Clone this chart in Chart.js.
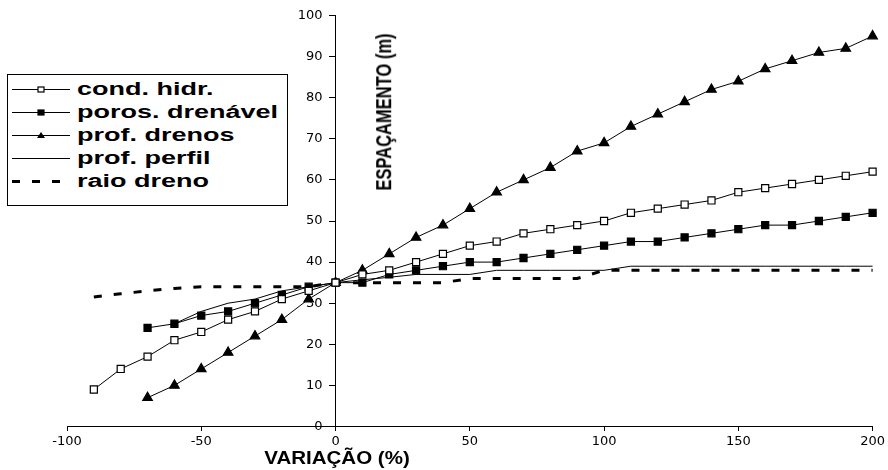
<!DOCTYPE html>
<html>
<head>
<meta charset="utf-8">
<script src="https://cdn.jsdelivr.net/npm/chart.js@4/dist/chart.umd.min.js"></script>
<style>
  html, body { margin: 0; padding: 0; background: #fff; }
  #wrap { position: relative; width: 888px; height: 470px; }
  #legend {
    position: absolute; left: 7px; top: 74px; width: 281px; height: 132px;
    border: 1px solid #000; box-sizing: border-box; background: #fff;
    font-family: "Liberation Sans", Arial, sans-serif; font-weight: bold;
  }
  .row { position: absolute; left: 0; height: 23px; width: 100%; }
  .row svg { position: absolute; left: 4px; top: 0; }
  .row span {
    position: absolute; left: 69px; top: 2px; font-size: 18px; line-height: 19px;
    transform: scaleX(1.5); transform-origin: left center; white-space: nowrap;
  }
  .title {
    position: absolute; font-family: "Liberation Sans", Arial, sans-serif;
    font-weight: bold; white-space: nowrap;
  }
  #ytitle { left: 384px; top: 112px; font-size: 16.5px;
    transform: translate(-50%, -50%) rotate(-90deg) scaleY(1.35); }
  #xtitle { left: 337px; top: 458px; font-size: 19px;
    transform: translate(-50%, -50%) scaleX(1.08); }
</style>
</head>
<body>
<div id="wrap">
  <canvas id="chart" width="888" height="470"></canvas>
  <div id="legend"></div>
  <div id="ytitle" class="title">ESPAÇAMENTO (m)</div>
  <div id="xtitle" class="title">VARIAÇÃO (%)</div>
</div>
<script>
// variação (%) shared by all series
const variacao = [-90, -80, -70, -60, -50, -40, -30, -20, -10, 0,
  10, 20, 30, 40, 50, 60, 70, 80, 90, 100,
  110, 120, 130, 140, 150, 160, 170, 180, 190, 200];

// espaçamento (m)
const condHidr = [9, 14, 17, 21, 23, 26, 28, 31, 33, 35,
  37, 38, 40, 42, 44, 45, 47, 48, 49, 50,
  52, 53, 54, 55, 57, 58, 59, 60, 61, 62];
const porosDrenavel = [null, null, 24, 25, 27, 28, 30, 32, 34, 35,
  35, 37, 38, 39, 40, 40, 41, 42, 43, 44,
  45, 45, 46, 47, 48, 49, 49, 50, 51, 52];
const profDrenos = [null, null, 7, 10, 14, 18, 22, 26, 31, 35,
  38, 42, 46, 49, 53, 57, 60, 63, 67, 69,
  73, 76, 79, 82, 84, 87, 89, 91, 92, 95];
const profPerfil = [null, null, null, 25, 28, 30, 31, 33, 34, 35,
  35.7, 36.3, 37, 37, 37, 38, 38, 38, 38, 38,
  39, 39, 39, 39, 39, 39, 39, 39, 39, 39];
const raioDreno = [31.5, 32.3, 33, 33.6, 34, 34, 34, 34, 34, 35,
  35, 35, 35, 35, 36, 36, 36, 36, 36, 38,
  38, 38, 38, 38, 38, 38, 38, 38, 38, 38];

const xTicks = [-100, -50, 0, 50, 100, 150, 200];

function pts(values) {
  return variacao.map((x, i) => ({ x: x, y: values[i] })).filter(p => p.y !== null);
}

const series = [
  { label: "cond. hidr.", data: condHidr, style: "rect", fill: "#fff", radius: 5, width: 1, dash: [] },
  { label: "poros. drenável", data: porosDrenavel, style: "rect", fill: "#000", radius: 5, width: 1, dash: [] },
  { label: "prof. drenos", data: profDrenos, style: "triangle", fill: "#000", radius: 5.5, width: 1, dash: [] },
  { label: "prof. perfil", data: profPerfil, style: false, fill: "#000", radius: 0, width: 1, dash: [] },
  { label: "raio dreno", data: raioDreno, style: false, fill: "#000", radius: 0, width: 3, dash: [8, 12] },
];

const datasets = series.map(s => ({
  label: s.label,
  data: pts(s.data),
  borderColor: "#000",
  borderWidth: s.width,
  borderDash: s.dash,
  pointStyle: s.style || "circle",
  pointRadius: s.radius,
  pointBackgroundColor: s.fill,
  pointBorderColor: "#000",
  pointBorderWidth: 1.2,
  tension: 0,
  clip: false,
}));

const tickFont = { family: "DejaVu Sans", size: 13 };

new Chart(document.getElementById("chart"), {
  type: "line",
  data: { datasets: datasets },
  options: {
    responsive: false,
    animation: false,
    layout: { padding: { left: 67, right: 15, top: 15.5, bottom: 43.5 } },
    plugins: { legend: { display: false }, tooltip: { enabled: false } },
    scales: {
      x: {
        type: "linear",
        position: { y: 0 },
        min: -100, max: 200,
        afterBuildTicks: axis => { axis.ticks = xTicks.map(v => ({ value: v })); },
        grid: { drawOnChartArea: false, color: "#000", tickLength: 4 },
        border: { color: "#000", width: 1 },
        ticks: { color: "#000", padding: 3, maxRotation: 0, font: tickFont },
      },
      y: {
        type: "linear",
        position: { x: 0 },
        min: 0, max: 100,
        ticks: {
          stepSize: 10, color: "#000", font: tickFont,
          // centred axis puts labels flush on the line, push them off it
          callback: v => v + "\u2003",
        },
        grid: { drawOnChartArea: false, color: "#000", tickLength: 6 },
        border: { color: "#000", width: 1 },
      },
    },
  },
});

// legend box inside the plot, built from the same series
const legend = document.getElementById("legend");
series.forEach((s, i) => {
  const row = document.createElement("div");
  row.className = "row";
  row.style.top = (3 + i * 22.9) + "px";
  let marker = "";
  if (s.style === "rect") {
    marker = '<rect x="26" y="9" width="6" height="5" fill="' + s.fill + '" stroke="#000" stroke-width="1.2"/>';
  } else if (s.style === "triangle") {
    marker = '<polygon points="29,8 33,14 25,14" fill="#000"/>';
  }
  const len = s.dash.length ? 50 : 58;
  const dash = s.dash.length ? ' stroke-dasharray="8 12"' : "";
  row.innerHTML =
    '<svg width="62" height="23"><line x1="0" y1="11.5" x2="' + len + '" y2="11.5" stroke="#000" stroke-width="' +
    s.width + '"' + dash + '/>' + marker + '</svg><span>' + s.label + '</span>';
  legend.appendChild(row);
});
</script>
</body>
</html>
